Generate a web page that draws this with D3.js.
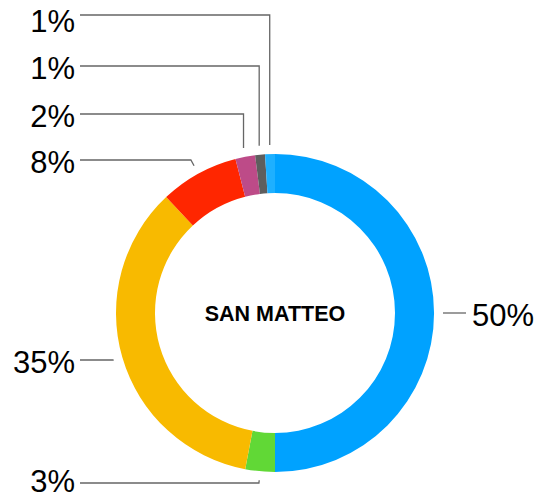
<!DOCTYPE html>
<html>
<head>
  <meta charset="utf-8">
  <title>San Matteo</title>
  <script src="https://cdn.jsdelivr.net/npm/d3@7"></script>
  <style>
    body { margin: 0; background: #fff; }
    text { font-family: "Helvetica Neue", Helvetica, "Liberation Sans", Arial, sans-serif; }
  </style>
</head>
<body>
  <svg width="544" height="500"></svg>
  <script>
    // slices, clockwise from 12 o'clock
    var categories = ["A", "B", "C", "D", "E", "F", "G"];
    var values = [50, 3, 35, 8, 2, 1, 1];
    var colors = ["#00A2FF", "#61D836", "#F8BA00", "#FF2600", "#BD4B88", "#5E5E5E", "#1EB0FF"];
    var title = "SAN MATTEO";

    // where each label row sits (leader layout)
    var labelRows = [313, 483, 360, 160, 114, 66, 15];

    var cx = 275, cy = 313;
    var outerR = 159, innerR = 120, leadR = 168;

    var svg = d3.select("svg");
    var g = svg.append("g").attr("transform", "translate(" + cx + "," + cy + ")");

    var pie = d3.pie().sort(null).value(function(d) { return d; });
    var arcs = pie(values);
    var arc = d3.arc().innerRadius(innerR).outerRadius(outerR);

    g.selectAll("path.slice")
      .data(arcs)
      .enter()
      .append("path")
      .attr("class", "slice")
      .attr("d", arc)
      .attr("fill", function(d, i) { return colors[i]; });

    // leader lines + labels
    arcs.forEach(function(d, i) {
      var a = (d.startAngle + d.endAngle) / 2;
      var ux = Math.sin(a), uy = -Math.cos(a);
      var ax = leadR * ux, ay = leadR * uy;
      var ly = labelRows[i] - cy;
      var right = ux > 0.3;
      var ex;
      // short hops go along the radius, long ones straight up
      if (Math.abs(ly - ay) < 20 && Math.abs(uy) > 0.01) {
        ex = ax + ux * (ly - ay) / uy;
      } else {
        ex = ax;
      }
      var endX = right ? 466 - cx : 80 - cx;
      var pts = [[ax, ay], [ex, ly], [endX, ly]];
      g.append("path")
        .attr("d", d3.line()(pts))
        .attr("fill", "none")
        .attr("stroke", "#666")
        .attr("stroke-width", 1.3);

      // keep top and bottom labels inside the frame
      var base = Math.min(Math.max(ly + 13, 32 - cy), 492 - cy);
      g.append("text")
        .attr("x", right ? endX + 6 : endX - 5)
        .attr("y", base)
        .attr("text-anchor", right ? "start" : "end")
        .attr("font-size", 31)
        .attr("fill", "#000")
        .text(values[i] + "%");
    });

    g.append("text")
      .attr("x", 0)
      .attr("y", 7.5)
      .attr("text-anchor", "middle")
      .attr("font-size", 21.5)
      .attr("font-weight", "bold")
      .attr("fill", "#000")
      .text(title);
  </script>
</body>
</html>
